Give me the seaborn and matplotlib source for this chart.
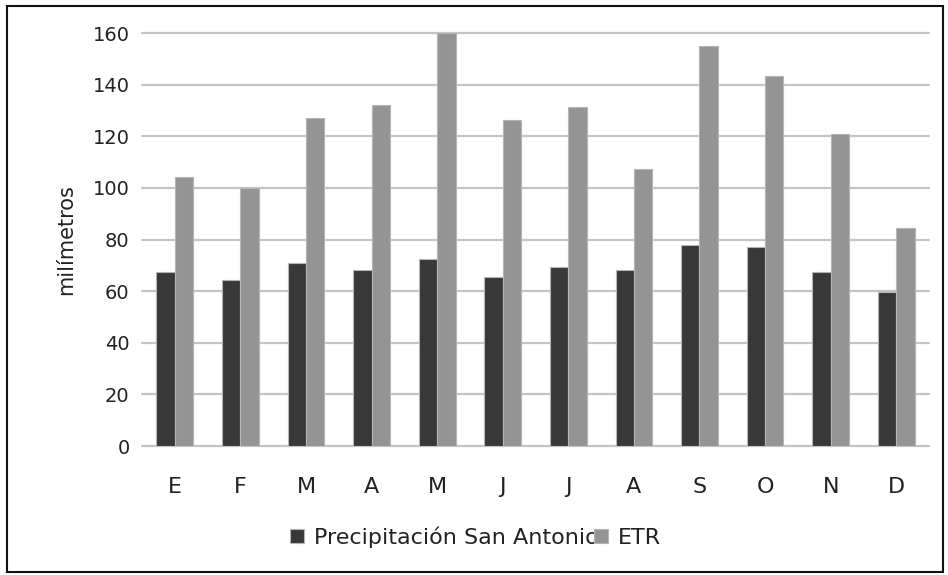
import matplotlib
matplotlib.use("Agg")
import matplotlib.pyplot as plt
import seaborn as sns
import pandas as pd
from matplotlib.patches import Rectangle

meses = ["E", "F", "M", "A", "M", "J", "J", "A", "S", "O", "N", "D"]
precipitacion = [67.3, 64.2, 71.0, 68.1, 72.6, 65.6, 69.5, 68.1, 77.8, 77.0, 67.3, 59.8]
etr = [104.3, 99.9, 126.9, 132.2, 160.0, 126.3, 131.4, 107.3, 154.8, 143.5, 120.9, 84.6]
serie_p = "Precipitación San Antonio"
serie_e = "ETR"
y_ticks = [0, 20, 40, 60, 80, 100, 120, 140, 160]

# Month position keeps repeated initials (M, J, A) as separate categories
pos = list(range(len(meses)))
df = pd.DataFrame({
    "pos": pos * 2,
    "valor": precipitacion + etr,
    "serie": [serie_p] * len(meses) + [serie_e] * len(meses),
})

sns.set_theme(style="white")
plt.rcParams["font.family"] = ["DejaVu Sans"]
txt = "#222222"

fig = plt.figure(figsize=(9.48, 5.75), dpi=100)
ax = fig.add_axes([0.1498, 0.2243, 0.8302, 0.7183])

sns.barplot(
    data=df, x="pos", y="valor", hue="serie",
    palette={serie_p: "#383838", serie_e: "#949494"},
    width=0.56, gap=0, edgecolor="#b5b5b5", linewidth=0.8,
    ax=ax, legend=True,
)

ax.set_ylim(0, 160)
ax.set_yticks(y_ticks)
ax.set_yticklabels([str(t) for t in y_ticks], fontsize=14, color=txt)
ax.set_xticks(pos)
ax.set_xticklabels(meses, fontsize=16, color=txt)
ax.set_xlim(-0.5, len(meses) - 0.5)
ax.tick_params(axis="y", length=0, pad=9)
ax.tick_params(axis="x", length=0, pad=22)
ax.set_xlabel("")
ax.set_ylabel("milímetros", fontsize=15, color=txt, labelpad=12)

ax.yaxis.grid(True, color="#c4c4c4", linewidth=1.6, clip_on=False)
ax.set_axisbelow(True)
for s in ax.spines.values():
    s.set_visible(False)

handles, labels = ax.get_legend_handles_labels()
fig.legend(
    handles, labels, loc="center left", bbox_to_anchor=(290 / 948, 1 - 537 / 575),
    ncol=2, frameon=False, fontsize=16, handlelength=0.65, handleheight=0.65,
    handletextpad=0.45, columnspacing=-0.25, labelcolor=txt,
    borderpad=0, borderaxespad=0,
)
ax.get_legend().remove()

fig.patches.append(Rectangle((0.007, 0.005), 0.988, 0.985, transform=fig.transFigure,
                             fill=False, edgecolor="#111111", linewidth=1.5))

fig.savefig("out.png", dpi=100, facecolor="white")
